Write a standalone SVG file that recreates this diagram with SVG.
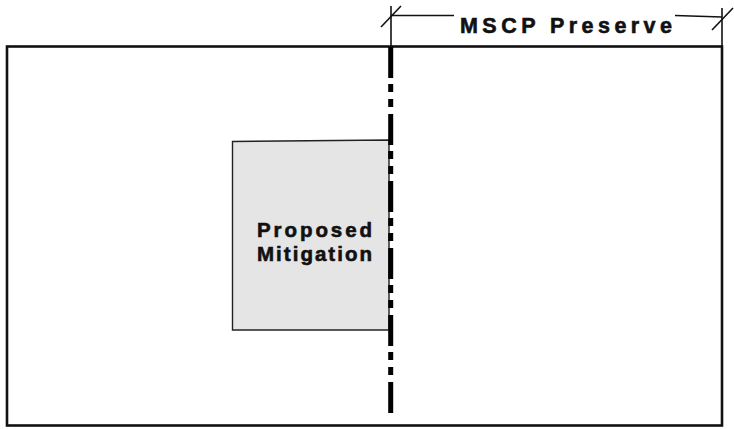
<svg xmlns="http://www.w3.org/2000/svg" width="734" height="429" viewBox="0 0 734 429">
<style>
.lbl{font-family:"Liberation Sans",Arial,sans-serif;font-weight:bold;fill:#111;stroke:#111;stroke-width:0.6}
.thin{stroke:#111;stroke-width:1.6;fill:none}
</style>
<rect width="734" height="429" fill="#fff"/>
<g id="site">
<rect x="7" y="46.5" width="715" height="379" fill="none" stroke="#111" stroke-width="2.6"/>
</g>
<g id="mitigation">
<path d="M232.5,141.5 L389,140 L389,330 L232.5,330 Z" fill="#e5e5e5" stroke="#222" stroke-width="1.4"/>
<text class="lbl" x="257" y="237" font-size="20.5" textLength="115" lengthAdjust="spacing">Proposed</text>
<text class="lbl" x="257" y="261" font-size="20.5" textLength="115" lengthAdjust="spacing">Mitigation</text>
</g>
<g id="boundary">
<line x1="390.7" y1="47" x2="390.7" y2="414" stroke="#000" stroke-width="5" stroke-dasharray="31 6 8 7 8 7"/>
</g>
<g id="dimension">
<line class="thin" x1="391" y1="6" x2="391" y2="47"/>
<line class="thin" x1="722" y1="8" x2="722" y2="47"/>
<line class="thin" x1="391" y1="15.5" x2="454" y2="15.5"/>
<line class="thin" x1="675" y1="15.5" x2="722" y2="17"/>
<line class="thin" x1="381" y1="27" x2="401" y2="6"/>
<line class="thin" x1="712" y1="30" x2="733" y2="8"/>
<text class="lbl" x="460" y="33" font-size="21.5" textLength="212" lengthAdjust="spacing">MSCP  Preserve</text>
</g>
</svg>
